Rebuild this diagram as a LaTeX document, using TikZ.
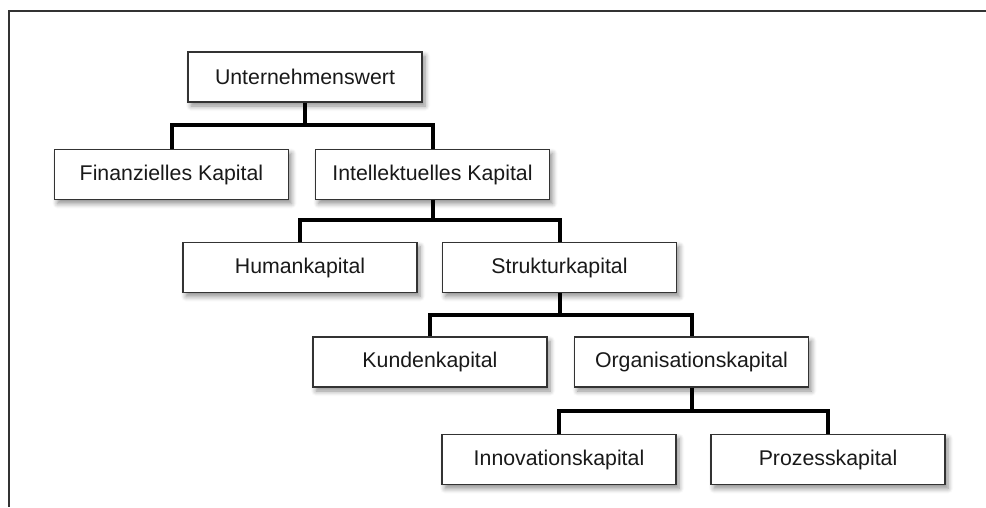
\documentclass[tikz,border=0pt]{standalone}
\usepackage{fontspec}
\setmainfont{Liberation Sans}
\usetikzlibrary{shadows.blur}
\begin{document}
\begin{tikzpicture}[x=1pt,y=-1pt,
  box/.style={draw=black!80, line width=1.3pt, fill=white, rectangle,
    minimum width=234pt, minimum height=50pt, inner sep=0pt,
    text=black!90, font=\fontsize{21.3}{25}\selectfont,
    blur shadow={shadow xshift=3pt, shadow yshift=-4pt, shadow blur radius=5pt, shadow blur steps=6, shadow opacity=45}},
  conn/.style={line width=4pt, black, line join=miter},
  frame/.style={line width=2pt, black!80}]
\useasboundingbox (0,0) rectangle (986,507);
\draw[frame] (986,11) -- (9,11) -- (9,507);
% level coordinates for bars
\coordinate (b1) at (0,125);
\coordinate (b2) at (0,220);
\coordinate (b3) at (0,315);
\coordinate (b4) at (0,411);
% nodes
\node[box] (U) at (305,77) {Unternehmenswert};
\node[box] (F) at (171.5,174.5) {Finanzielles Kapital};
\node[box] (I) at (432.5,174.5) {Intellektuelles Kapital};
\node[box] (H) at (300,267.5) {Humankapital};
\node[box] (S) at (559.5,267.5) {Strukturkapital};
\node[box] (K) at (430,362) {Kundenkapital};
\node[box] (O) at (691.5,362) {Organisationskapital};
\node[box] (N) at (559,459.5) {Innovationskapital};
\node[box] (P) at (828,459.5) {Prozesskapital};
% connectors
\draw[conn] (U.south) -- (U.south |- b1) -| (F.north);
\draw[conn] (U.south |- b1) -| (I.north);
\draw[conn] (I.south) -- (I.south |- b2) -| (H.north);
\draw[conn] (I.south |- b2) -| (S.north);
\draw[conn] (S.south) -- (S.south |- b3) -| (K.north);
\draw[conn] (S.south |- b3) -| (O.north);
\draw[conn] (O.south) -- (O.south |- b4) -| (N.north);
\draw[conn] (O.south |- b4) -| (P.north);
\end{tikzpicture}
\end{document}
